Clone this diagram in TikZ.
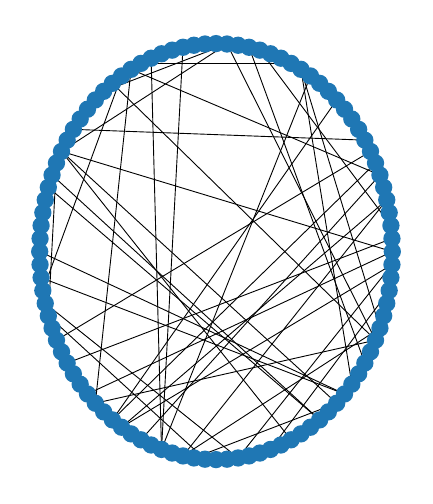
\documentclass[tikz,border=0pt]{standalone}
\usetikzlibrary{calc}
\definecolor{nodeblue}{HTML}{1F77B4}
\tikzset{
  vtx/.style={circle, fill=nodeblue, inner sep=0pt, minimum size=17.3bp},
  edge/.style={black, line width=0.9bp}
}
\begin{document}
\begin{tikzpicture}[x=1bp, y=-1bp]
    \useasboundingbox (0,0) rectangle (432,504);
    % node positions on the ellipse
    \foreach \k in {0,...,99}
      \coordinate (v\k) at ({216+176.3*cos(3.6*\k)}, {251.6-208*sin(3.6*\k)});

    % edges
    \foreach \a/\b in {18/32, 6/33, 9/40, 33/63, 63/93, 31/70, 28/70, 35/93,
                       0/42, 16/70, 8/57, 22/91, 50/88, 34/53, 43/55, 24/93,
                       24/36, 24/42, 42/82, 42/87, 44/85, 45/85, 52/88, 54/77,
                       55/74, 7/65, 4/66, 4/72, 72/94, 77/99, 80/97, 73/87,
                       1/59, 0/62, 66/99, 2/21, 17/89, 13/65, 17/94, 6/68}
      \draw[edge] (v\a) -- (v\b);

    % nodes
    \foreach \k in {0,...,99}
      \node[vtx] (n\k) at (v\k) {};
\end{tikzpicture}
\end{document}
